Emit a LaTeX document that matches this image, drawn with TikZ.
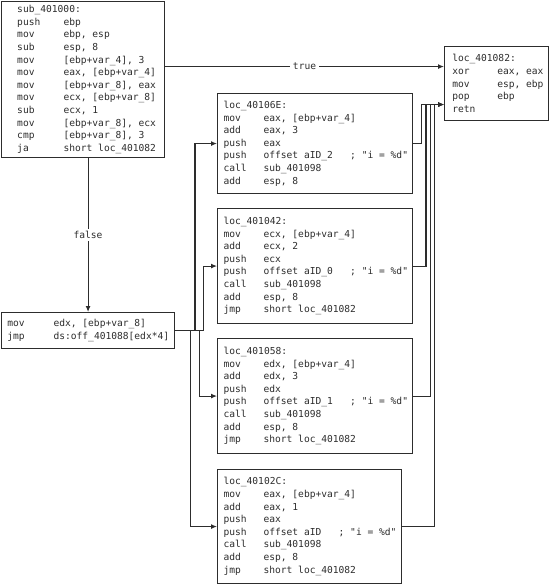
\documentclass[tikz,border=0pt]{standalone}
\usepackage{fontspec}
\newfontfamily\codefont{DejaVu Sans Mono}
\usetikzlibrary{arrows.meta}
\definecolor{lc}{RGB}{45,45,45}
\newlength\tabw
\newlength\padl
\newcommand\codesize{\codefont\fontsize{9.6}{12.6}\selectfont\parindent0pt}
\newcommand\s{\hspace*{0.602em}}
\newcommand\codeline[2]{\leavevmode\hbox to\hsize{\hspace*{\padl}\makebox[\tabw][l]{#1}#2\hss}\par}
\tikzset{
  box/.style={draw=lc, line width=1.1pt, anchor=north west, inner xsep=0pt, inner ysep=0pt,
    font=\codesize, text=lc, align=left, fill=white},
  arr/.style={draw=lc, line width=1.1pt, -{Latex[length=6pt,width=5pt]}},
  lbl/.style={fill=white, font=\codesize, text=lc, inner xsep=3pt, inner ysep=2pt}
}
\begin{document}
\begin{tikzpicture}[x=1pt,y=-1pt]
\useasboundingbox (0,0) rectangle (550,585);

\node[box, text width=163pt, minimum height=156pt] (main) at (1,1) {%
\setlength\padl{15.7pt}\setlength\tabw{46.3pt}%
\codeline{sub\_401000:}{}%
\codeline{push}{ebp}%
\codeline{mov}{ebp,\s esp}%
\codeline{sub}{esp,\s 8}%
\codeline{mov}{[ebp+var\_4],\s 3}%
\codeline{mov}{eax,\s [ebp+var\_4]}%
\codeline{mov}{[ebp+var\_8],\s eax}%
\codeline{mov}{ecx,\s [ebp+var\_8]}%
\codeline{sub}{ecx,\s 1}%
\codeline{mov}{[ebp+var\_8],\s ecx}%
\codeline{cmp}{[ebp+var\_8],\s 3}%
\codeline{ja}{short\s loc\_401082}};

\node[box, text width=104pt, minimum height=74pt] (end) at (444,46) {%
\setlength\padl{7.7pt}\setlength\tabw{45pt}%
\codeline{loc\_401082:}{}%
\codeline{xor}{eax,\s eax}%
\codeline{mov}{esp,\s ebp}%
\codeline{pop}{ebp}%
\codeline{retn}{}};

\node[box, text width=173pt, minimum height=36pt] (sw) at (1,312) {%
\setlength\padl{5.7pt}\setlength\tabw{46.3pt}%
\codeline{mov}{edx,\s [ebp+var\_8]}%
\codeline{jmp}{ds:off\_401088[edx*4]}};

\node[box, text width=195pt, minimum height=100pt] (b1) at (217,93) {%
\setlength\padl{6pt}\setlength\tabw{40pt}%
\codeline{loc\_40106E:}{}%
\codeline{mov}{eax,\s [ebp+var\_4]}%
\codeline{add}{eax,\s 3}%
\codeline{push}{eax}%
\codeline{push}{offset\s aID\_2\s\s\s;\s "i\s =\s \%d"}%
\codeline{call}{sub\_401098}%
\codeline{add}{esp,\s 8}};

\node[box, text width=195pt, minimum height=115pt] (b2) at (217,208) {%
\setlength\padl{6pt}\setlength\tabw{40pt}%
\codeline{loc\_401042:}{}%
\codeline{mov}{ecx,\s [ebp+var\_4]}%
\codeline{add}{ecx,\s 2}%
\codeline{push}{ecx}%
\codeline{push}{offset\s aID\_0\s\s\s;\s "i\s =\s \%d"}%
\codeline{call}{sub\_401098}%
\codeline{add}{esp,\s 8}%
\codeline{jmp}{short\s loc\_401082}};

\node[box, text width=195pt, minimum height=115pt] (b3) at (217,338) {%
\setlength\padl{6pt}\setlength\tabw{40pt}%
\codeline{loc\_401058:}{}%
\codeline{mov}{edx,\s [ebp+var\_4]}%
\codeline{add}{edx,\s 3}%
\codeline{push}{edx}%
\codeline{push}{offset\s aID\_1\s\s\s;\s "i\s =\s \%d"}%
\codeline{call}{sub\_401098}%
\codeline{add}{esp,\s 8}%
\codeline{jmp}{short\s loc\_401082}};

\node[box, text width=184pt, minimum height=114pt] (b4) at (217,469) {%
\setlength\padl{6pt}\setlength\tabw{40pt}%
\codeline{loc\_40102C:}{}%
\codeline{mov}{eax,\s [ebp+var\_4]}%
\codeline{add}{eax,\s 1}%
\codeline{push}{eax}%
\codeline{push}{offset\s aID\s\s\s;\s "i\s =\s \%d"}%
\codeline{call}{sub\_401098}%
\codeline{add}{esp,\s 8}%
\codeline{jmp}{short\s loc\_401082}};

% helper coordinates (only x used)
\coordinate (xl1) at (195,0);
\coordinate (xl2) at (203.5,0);
\coordinate (xl3) at (199.3,0);
\coordinate (xl4) at (190.7,0);
\coordinate (xr1) at (421.7,0);
\coordinate (xr2) at (426,0);
\coordinate (xr3) at (430.2,0);
\coordinate (xr4) at (434.7,0);
\coordinate (tru) at ([yshift=17pt]end.west);
\coordinate (jn) at ([yshift=-21pt]end.west);

\draw[arr] (main.east |- tru) -- node[lbl]{true} (tru);
\draw[arr] (main.south -| sw.north) -- node[lbl]{false} (sw.north);

\draw[arr] (sw.east) -| (xl1 |- b1.west) -- (b1.west);
\draw[arr] (sw.east) -| (xl2 |- b2.west) -- (b2.west);
\draw[arr] (sw.east) -| (xl3 |- b3.west) -- (b3.west);
\draw[arr] (sw.east) -| (xl4 |- b4.west) -- (b4.west);

\draw[arr] (b1.east) -| (xr1 |- jn) -- (jn);
\draw[arr] (b2.east) -| (xr2 |- jn) -- (jn);
\draw[arr] (b3.east) -| (xr3 |- jn) -- (jn);
\draw[arr] (b4.east) -| (xr4 |- jn) -- (jn);
\end{tikzpicture}
\end{document}
